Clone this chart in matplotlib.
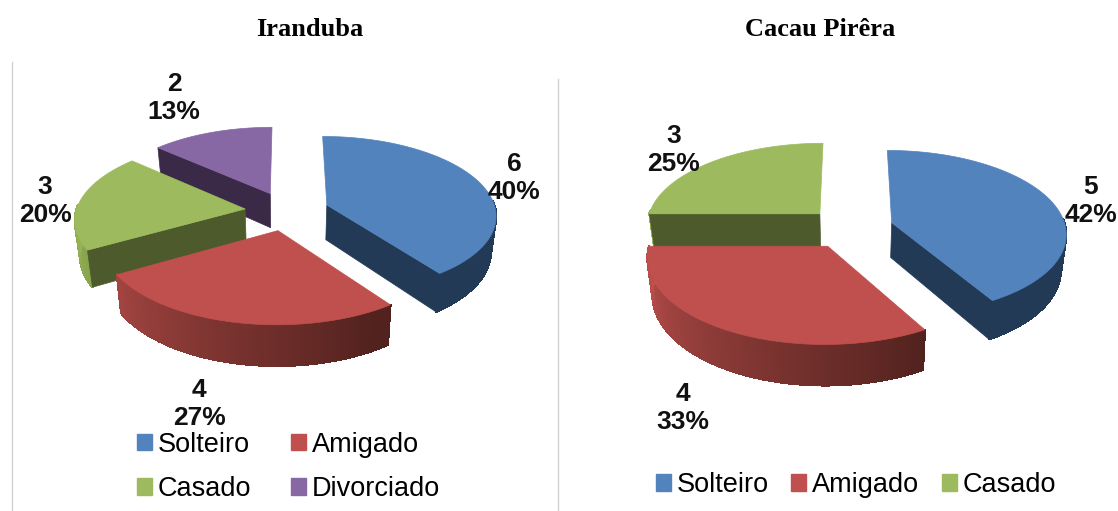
import numpy as np
import matplotlib
matplotlib.use('Agg')
import matplotlib.pyplot as plt
from matplotlib.collections import PolyCollection
from matplotlib.patches import Patch

W, H = 1118, 511

categories_left = ['Solteiro', 'Amigado', 'Casado', 'Divorciado']
values_left = [6, 4, 3, 2]
percent_left = [40, 27, 20, 13]

categories_right = ['Solteiro', 'Amigado', 'Casado']
values_right = [5, 4, 3]
percent_right = [42, 33, 25]

TOP = {'Solteiro': '#5383bd', 'Amigado': '#c0504d', 'Casado': '#9dbb5e', 'Divorciado': '#8767a4'}
WALL = {'Solteiro': '#233a56', 'Amigado': '#55231f', 'Casado': '#4d5a2c', 'Divorciado': '#3a2a47'}
EXPLODE = 0.25
KPERSP = 0.118


def project(mx, my, geo):
    cx, cy, rx, ry, depth = geo
    w = 1 + KPERSP * my
    return cx + rx * mx / w, cy - ry * my / w


def side_color(name, th):
    # front rim shading, goes darker towards the right
    t = np.clip((270 - th) / 120.0, 0, 1)
    if name == 'Amigado':
        a, b = np.array([190, 80, 77]), np.array([82, 34, 30])
    elif name == 'Casado':
        a, b = np.array([150, 180, 85]), np.array([90, 110, 50])
    else:
        return WALL[name]
    return tuple((a + (b - a) * t) / 255.0)


def draw_pie(ax, names, values, geo):
    cx, cy, rx, ry, depth = geo
    frac = np.array(values, dtype=float) / sum(values)
    ends = np.cumsum(frac) * 360
    starts = ends - frac * 360
    mids = np.radians((starts + ends) / 2)

    # back slices first
    z = 2
    for i in np.argsort(-np.cos(mids)):
        ox, oy = EXPLODE * np.sin(mids[i]), EXPLODE * np.cos(mids[i])
        th = np.linspace(starts[i], ends[i], 90)
        mx = ox + np.sin(np.radians(th))
        my = oy + np.cos(np.radians(th))
        x, y = project(mx, my, geo)
        ax_, ay_ = project(ox, oy, geo)

        def lower(px, py, pm):
            return cx + (px - cx) * 0.975, py + depth / (1 + KPERSP * pm)

        bx, by = lower(x, y, my)
        abx, aby = lower(ax_, ay_, oy)

        # outer rim, front part only
        quads, cols = [], []
        for j in range(len(th) - 1):
            if np.cos(np.radians(th[j])) > 0.05:
                continue
            quads.append([(x[j], y[j]), (x[j + 1], y[j + 1]), (bx[j + 1], by[j + 1]), (bx[j], by[j])])
            cols.append(side_color(names[i], th[j]))
        if quads:
            ax.add_collection(PolyCollection(quads, facecolors=cols, edgecolors=cols, linewidths=1,
                                             antialiaseds=False, zorder=z))

        # cut faces, only the ones turned towards us
        for j, sign in ((0, -1), (-1, 1)):
            if sign * np.sin(np.radians(th[j])) <= 0:
                continue
            ax.fill([ax_, x[j], bx[j], abx], [ay_, y[j], by[j], aby],
                    color=WALL[names[i]], lw=0.5, zorder=z + 0.1)

        ax.fill(np.r_[ax_, x], np.r_[ay_, y], color=TOP[names[i]], lw=0.5, zorder=z + 0.2)
        z += 1


fig = plt.figure(figsize=(W / 100, H / 100), dpi=100)
ax = fig.add_axes([0, 0, 1, 1])
ax.set_xlim(0, W)
ax.set_ylim(H, 0)
ax.axis('off')

# grey chart frames
ax.plot([12, 12], [62, 510], color='#d2d2d2', lw=1)
ax.plot([558, 558], [79, 511], color='#d2d2d2', lw=1)

draw_pie(ax, categories_left, values_left, (287, 211, 169, 78, 35))
draw_pie(ax, categories_right, values_right, (850, 228, 174, 82, 35))

ax.text(310, 29.5, 'Iranduba', family='Liberation Serif', weight='bold', fontsize=19, ha='center', va='center')
ax.text(820, 29.5, 'Cacau Pirêra', family='Liberation Serif', weight='bold', fontsize=19, ha='center', va='center')

label_pos_left = [(514, 178), (199, 404), (45, 201), (174, 98)]
label_pos_right = [(1091, 201), (683, 408), (674, 150)]
for v, p, pos in zip(values_left + values_right, percent_left + percent_right, label_pos_left + label_pos_right):
    ax.text(pos[0], pos[1], '{}\n{}%'.format(v, p), family='Liberation Sans', weight='bold',
            fontsize=19, ha='center', va='center', linespacing=1.25, color='#111111', zorder=20)

leg_font = {'family': 'Liberation Sans', 'size': 19.5}

order = [0, 2, 1, 3]
leg1 = ax.legend(handles=[Patch(color=TOP[categories_left[i]], label=categories_left[i]) for i in order],
                 ncol=2, loc='center left', bbox_to_anchor=(137, 467), bbox_transform=ax.transData,
                 frameon=False, prop=leg_font, handlelength=0.55, handleheight=0.55,
                 handletextpad=0.2, columnspacing=1.5, labelspacing=0.68, borderpad=0, borderaxespad=0)
leg1.set_zorder(20)
ax.add_artist(leg1)

leg2 = ax.legend(handles=[Patch(color=TOP[c], label=c) for c in categories_right],
                 ncol=3, loc='center left', bbox_to_anchor=(656, 485), bbox_transform=ax.transData,
                 frameon=False, prop=leg_font, handlelength=0.55, handleheight=0.55,
                 handletextpad=0.2, columnspacing=0.85, borderpad=0, borderaxespad=0)

fig.savefig('out.png', dpi=100)
